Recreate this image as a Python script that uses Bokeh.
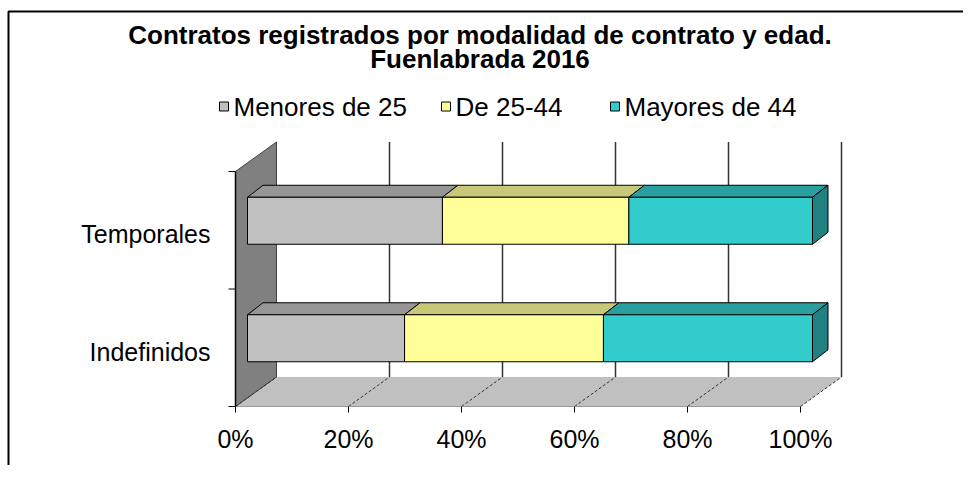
from bokeh.plotting import figure
from bokeh.models import Range1d
from bokeh.core.properties import value
from bokeh.embed import file_html
from bokeh.resources import INLINE

# ---------------- data ----------------
categories = ["Indefinidos", "Temporales"]          # bottom -> top
series_names = ["Menores de 25", "De 25-44", "Mayores de 44"]
menores = [27.8, 34.5]
de25_44 = [35.2, 33.0]
mayores = [37.0, 32.5]
tick_values = [0, 20, 40, 60, 80, 100]
tick_labels = ["0%", "20%", "40%", "60%", "80%", "100%"]
title_lines = ["Contratos registrados por modalidad de contrato y edad.",
               "Fuenlabrada 2016"]

series_values = [menores, de25_44, mayores]
front_colors = ["#C0C0C0", "#FFFF99", "#33CCCC"]
top_colors = ["#969696", "#C8C87A", "#299F9F"]
side_colors = ["#8A8A8A", "#A8A860", "#218080"]

# ---------------- layout (pixels in the picture) ----------------
W, H = 963, 465
X0_PIX, Y0_PIX = 235.0, 406.0   # front-left-bottom corner of the plot area
PX = 5.65    # pixels per percent
PY = 117.5   # pixels per category


def X(px):
    return (px - X0_PIX) / PX


def Y(py):
    return (Y0_PIX - py) / PY


def dxp(px):
    return px / PX


def dyp(px):
    return px / PY


FONT = value("Liberation Sans")

p = figure(width=W, height=H,
           x_range=Range1d(X(0), X(W)),
           y_range=Range1d(Y(H), Y(0)),
           min_border=0, x_axis_location=None, y_axis_location=None,
           toolbar_location=None, output_backend="svg")
p.grid.visible = False
p.outline_line_color = None
p.background_fill_color = "white"
p.border_fill_color = "white"

n = len(categories)
vmax = tick_values[-1]
DX, DY = dxp(41), dyp(29.5)          # full depth of the 3D box
BOX, BOY = dxp(12), dyp(9.5)         # bar front plane offset
BDX, BDY = dxp(15.5), dyp(12)        # bar depth
HB = dyp(23.5)                        # half bar thickness

# chart border (top and left)
p.line([X(8), X(8), X(W)], [Y(H), Y(11), Y(11)], line_color="black", line_width=2)

# floor
p.patch([0, vmax, vmax + DX, DX], [0, 0, DY, DY], fill_color="#C0C0C0", line_color=None)
# left wall
p.patch([0, 0, DX, DX], [0, n, n + DY, DY], fill_color="#808080",
        line_color="#404040", line_width=1)
# back wall gridlines
p.multi_line([[v + DX, v + DX] for v in tick_values[1:]],
             [[DY, n + DY] for v in tick_values[1:]],
             line_color="#333333", line_width=1.5)
# floor gridlines
p.multi_line([[v, v + DX] for v in tick_values],
             [[0, DY] for v in tick_values],
             line_color="#333333", line_width=1, line_dash="3 2")
# value axis
p.line([0, vmax], [0, 0], line_color="#9A9A9A", line_width=1)
p.segment(x0=tick_values, y0=[0] * len(tick_values), x1=tick_values,
          y1=[-dyp(6)] * len(tick_values), line_color="black", line_width=1)
p.text(x=tick_values, y=[Y(438)] * len(tick_values), text=tick_labels,
       text_font=FONT, text_font_size="25px", text_align="center",
       text_baseline="middle", text_color="black")
# category axis
p.line([0, 0], [0, n], line_color="black", line_width=1.5)
p.segment(x0=[0] * (n + 1), y0=list(range(n + 1)), x1=[-dxp(7)] * (n + 1),
          y1=list(range(n + 1)), line_color="black", line_width=1)
p.text(x=[X(210)] * n, y=[i + 0.5 - dyp(4) for i in range(n)], text=categories,
       text_font=FONT, text_font_size="25px", text_align="right",
       text_baseline="middle", text_color="black")

# bars
for i in range(n):
    c = i + 0.5 + BOY
    b, t = c - HB, c + HB
    start = 0.0
    for k, vals in enumerate(series_values):
        s = start + BOX
        e = start + vals[i] + BOX
        start += vals[i]
        p.patch([s, e, e + BDX, s + BDX], [t, t, t + BDY, t + BDY],
                fill_color=top_colors[k], line_color="black", line_width=1)
        p.quad(left=[s], right=[e], bottom=[b], top=[t],
               fill_color=front_colors[k], line_color="black", line_width=1)
        if k == len(series_values) - 1:
            p.patch([e, e + BDX, e + BDX, e], [t, t + BDY, b + BDY, b],
                    fill_color=side_colors[k], line_color="black", line_width=1)

# title
p.text(x=[X(479.5)] * 2, y=[Y(34), Y(58)], text=title_lines,
       text_font=FONT, text_font_size="26px", text_font_style="bold",
       text_align="center", text_baseline="middle", text_color="black")

# legend
leg_square_left = [219, 441, 610]
leg_y = 106
p.rect(x=[X(v + 4.5) for v in leg_square_left], y=[Y(leg_y)] * 3,
       width=9, height=9, width_units="screen", height_units="screen",
       fill_color=front_colors, line_color="black", line_width=1)
p.text(x=[X(v + 14) for v in leg_square_left], y=[Y(leg_y)] * 3, text=series_names,
       text_font=FONT, text_font_size="26px", text_align="left",
       text_baseline="middle", text_color="black")

open("out.html", "w").write(file_html(p, INLINE))
